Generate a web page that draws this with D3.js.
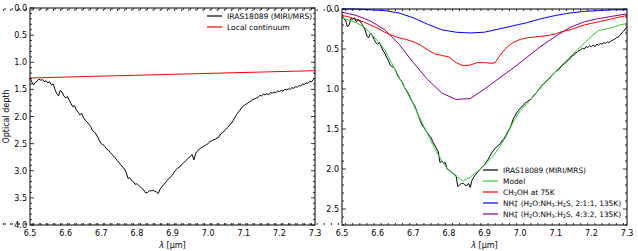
<!DOCTYPE html>
<html>
<head>
<meta charset="utf-8">
<script src="https://cdn.jsdelivr.net/npm/d3@7"></script>
<style>
  body { margin: 0; background: #fff; }
  svg text { font-family: "DejaVu Sans", sans-serif; fill: #000; }
</style>
</head>
<body>
<div id="chart"></div>
<script>
// wavelength sampling of the spectra (micron), 6.500 .. 7.300 step 0.005
var lamFine = d3.range(1300, 1461).map(function(i) { return i / 200; });

// left panel: observed optical depth + local continuum
var tauObs = [1.29,1.36,1.42,1.37,1.35,1.31,1.33,1.32,1.36,1.34,1.38,1.36,1.42,1.40,1.50,1.58,1.62,1.52,1.55,1.62,
  1.66,1.63,1.70,1.76,1.82,1.80,1.88,1.92,1.97,1.94,2.02,2.07,2.10,2.14,2.18,2.26,2.28,2.32,2.38,2.45,
  2.50,2.52,2.55,2.60,2.62,2.66,2.70,2.73,2.77,2.81,2.85,2.89,2.93,2.97,3.03,3.14,3.13,3.18,3.20,3.25,
  3.24,3.27,3.30,3.33,3.36,3.41,3.40,3.37,3.37,3.36,3.38,3.39,3.42,3.34,3.30,3.26,3.22,3.18,3.14,3.11,
  3.08,3.02,2.98,2.95,2.93,2.89,2.86,2.83,2.80,2.76,2.74,2.70,2.80,2.68,2.64,2.60,2.58,2.56,2.54,2.52,
  2.50,2.46,2.45,2.43,2.42,2.40,2.38,2.32,2.30,2.27,2.24,2.20,2.16,2.12,2.08,2.02,1.96,1.92,1.88,1.83,
  1.80,1.78,1.76,1.73,1.72,1.69,1.68,1.66,1.65,1.61,1.62,1.59,1.60,1.58,1.60,1.56,1.57,1.55,1.56,1.53,
  1.54,1.52,1.53,1.50,1.51,1.49,1.50,1.47,1.48,1.45,1.46,1.43,1.44,1.40,1.41,1.38,1.39,1.35,1.36,1.32,1.29];
var lamCont = [6.5, 7.3];
var tauCont = [1.29, 1.155];

// right panel: continuum-subtracted spectrum and lab fits
var tauSub = [0.10,0.12,0.14,0.22,0.20,0.12,0.13,0.11,0.16,0.13,0.15,0.18,0.22,0.26,0.34,0.36,0.30,0.33,0.38,0.42,
  0.44,0.42,0.47,0.52,0.55,0.60,0.64,0.70,0.72,0.73,0.76,0.82,0.86,0.89,0.92,0.98,1.01,1.05,1.09,1.14,
  1.18,1.22,1.28,1.34,1.40,1.45,1.48,1.52,1.55,1.58,1.61,1.66,1.70,1.74,1.78,1.92,1.90,1.93,1.92,2.00,
  2.01,2.03,2.05,2.07,2.08,2.22,2.20,2.18,2.18,2.20,2.21,2.18,2.23,2.14,2.10,2.07,2.04,2.02,1.99,1.97,
  1.95,1.91,1.88,1.84,1.80,1.77,1.74,1.72,1.70,1.68,1.64,1.62,1.58,1.54,1.50,1.45,1.38,1.34,1.30,1.27,
  1.24,1.22,1.20,1.17,1.16,1.14,1.13,1.10,1.07,1.05,1.02,0.99,0.96,0.94,0.92,0.89,0.88,0.85,0.83,0.80,
  0.78,0.77,0.75,0.72,0.70,0.68,0.66,0.64,0.62,0.59,0.58,0.55,0.54,0.52,0.51,0.49,0.50,0.47,0.48,0.46,
  0.47,0.45,0.47,0.44,0.45,0.43,0.44,0.42,0.43,0.41,0.42,0.40,0.39,0.38,0.36,0.35,0.33,0.30,0.28,0.25,0.22];

var lamModel = [6.50,6.52,6.54,6.56,6.58,6.60,6.62,6.64,6.66,6.68,6.70,6.72,6.74,6.76,6.78,6.80,6.82,6.84,6.86,6.88,
  6.90,6.92,6.94,6.96,6.98,7.00,7.02,7.04,7.06,7.08,7.10,7.12,7.14,7.16,7.18,7.20,7.22,7.24,7.26,7.28,7.30];
var tauModel = [0.11,0.14,0.17,0.22,0.30,0.40,0.51,0.68,0.85,1.02,1.19,1.38,1.56,1.74,1.90,2.02,2.09,2.15,2.10,2.03,
  1.95,1.86,1.74,1.60,1.42,1.27,1.18,1.08,0.97,0.87,0.78,0.69,0.60,0.51,0.43,0.34,0.27,0.25,0.23,0.20,0.18];

var lamCH3OH = [6.50,6.52,6.54,6.56,6.58,6.60,6.62,6.64,6.66,6.68,6.70,6.72,6.74,6.76,6.78,6.80,6.82,6.84,6.86,6.88,
  6.90,6.92,6.93,6.94,6.96,6.98,7.00,7.02,7.04,7.06,7.08,7.10,7.12,7.14,7.16,7.18,7.20,7.22,7.24,7.26,7.28,7.30];
var tauCH3OH = [0.08,0.10,0.13,0.16,0.20,0.24,0.29,0.33,0.36,0.38,0.41,0.45,0.51,0.56,0.58,0.60,0.67,0.71,0.70,0.67,
  0.67,0.68,0.67,0.60,0.49,0.42,0.38,0.36,0.35,0.34,0.33,0.31,0.28,0.26,0.23,0.20,0.18,0.16,0.14,0.12,0.10,0.08];

var lamNH4 = [6.50,6.54,6.58,6.62,6.66,6.70,6.74,6.78,6.82,6.86,6.90,6.94,6.98,7.02,7.06,7.10,7.14,7.18,7.22,7.26,7.30];
var tauNH4a = [0.00,0.00,0.01,0.02,0.05,0.11,0.19,0.26,0.29,0.30,0.29,0.25,0.21,0.17,0.12,0.08,0.05,0.03,0.02,0.01,0.01];
var tauNH4b = [0.04,0.08,0.15,0.26,0.44,0.67,0.88,1.05,1.13,1.12,1.00,0.87,0.74,0.60,0.46,0.34,0.23,0.16,0.12,0.09,0.06];

var xTicks = [6.5,6.6,6.7,6.8,6.9,7.0,7.1,7.2,7.3];

var width = 638, height = 251;
var svg = d3.select("#chart").append("svg")
  .attr("width", width)
  .attr("height", height);

function zip(xs, ys) { return xs.map(function(x, i) { return [x, ys[i]]; }); }

function panel(box, yMax, yTicks) {
  var p = {};
  p.x = d3.scaleLinear().domain([6.5, 7.3]).range([box.left, box.right]);
  p.y = d3.scaleLinear().domain([0, yMax]).range([box.top, box.bottom]);
  p.g = svg.append("g");
  p.line = d3.line().x(function(d) { return p.x(d[0]); }).y(function(d) { return p.y(d[1]); });

  // ticks inward on all four sides
  var xMinor = d3.range(65, 731, 2).map(function(v) { return v / 100; });
  var yMinor = d3.range(0, Math.round(yMax * 10) + 1).map(function(v) { return v / 10; });
  var tk = p.g.append("g").attr("stroke", "#000").attr("stroke-width", 0.8);
  xMinor.forEach(function(v) {
    var major = Math.abs(v * 10 - Math.round(v * 10)) < 1e-6;
    var len = major ? 4 : 2;
    tk.append("line").attr("x1", p.x(v)).attr("x2", p.x(v)).attr("y1", box.bottom).attr("y2", box.bottom - len);
    tk.append("line").attr("x1", p.x(v)).attr("x2", p.x(v)).attr("y1", box.top).attr("y2", box.top + len);
  });
  yMinor.forEach(function(v) {
    var major = Math.abs(v * 2 - Math.round(v * 2)) < 1e-6;
    var len = major ? 4 : 2;
    tk.append("line").attr("y1", p.y(v)).attr("y2", p.y(v)).attr("x1", box.left).attr("x2", box.left + len);
    tk.append("line").attr("y1", p.y(v)).attr("y2", p.y(v)).attr("x1", box.right).attr("x2", box.right - len);
  });

  p.g.selectAll(".xl").data(xTicks).enter().append("text")
    .attr("x", function(d) { return p.x(d); })
    .attr("y", box.bottom + 11)
    .attr("text-anchor", "middle")
    .attr("font-size", 8)
    .text(function(d) { return d.toFixed(1); });
  p.g.selectAll(".yl").data(yTicks).enter().append("text")
    .attr("x", box.left - 3)
    .attr("y", function(d) { return p.y(d) + 3; })
    .attr("text-anchor", "end")
    .attr("font-size", 8)
    .text(function(d) { return d.toFixed(1); });

  var xl = p.g.append("text")
    .attr("x", (box.left + box.right) / 2)
    .attr("y", box.bottom + 23)
    .attr("text-anchor", "middle")
    .attr("font-size", 8);
  xl.append("tspan").attr("font-style", "italic").text("λ");
  xl.append("tspan").text(" [μm]");

  p.plot = p.g.append("g");
  p.g.append("rect")
    .attr("x", box.left).attr("y", box.top)
    .attr("width", box.right - box.left).attr("height", box.bottom - box.top)
    .attr("fill", "none").attr("stroke", "#000").attr("stroke-width", 1);
  return p;
}

// parts: [text, kind, dy, dx]; kind sub/sup use a smaller size
function addLegend(g, x0, y0, dy, fs, items) {
  items.forEach(function(it, i) {
    var y = y0 + i * dy;
    g.append("line").attr("x1", x0).attr("x2", x0 + 15).attr("y1", y).attr("y2", y)
      .attr("stroke", it.color).attr("stroke-width", 1.2);
    var t = g.append("text").attr("x", x0 + 20).attr("y", y + 2.7).attr("font-size", fs);
    it.parts.forEach(function(pt) {
      var s = t.append("tspan").text(pt[0]);
      if (pt[1] === "sub" || pt[1] === "sup") s.attr("font-size", fs * 0.68);
      if (pt[2]) s.attr("dy", pt[2]);
      if (pt[3]) s.attr("dx", pt[3]);
    });
  });
}

function nh4Label(ratio) {
  return [["NH"], ["4", "sub", 1.5], ["+", "sup", -4.5, -3.2], [" (H", "n", 3], ["2", "sub", 1.5],
    ["O:NH", "n", -1.5], ["3", "sub", 1.5], [":H", "n", -1.5], ["2", "sub", 1.5], ["S, " + ratio + ", 135K)", "n", -1.5]];
}

// ---- left panel
var L = panel({left: 30, right: 315, top: 8, bottom: 225}, 4.0, [0,0.5,1,1.5,2,2.5,3,3.5,4]);
L.plot.append("path").datum(zip(lamFine, tauObs)).attr("d", L.line)
  .attr("fill", "none").attr("stroke", "#000").attr("stroke-width", 1);
L.plot.append("path").datum(zip(lamCont, tauCont)).attr("d", L.line)
  .attr("fill", "none").attr("stroke", "#ff0000").attr("stroke-width", 1);

svg.append("text")
  .attr("transform", "translate(9," + (8 + 225) / 2 + ") rotate(-90)")
  .attr("text-anchor", "middle")
  .attr("font-size", 8)
  .text("Optical depth");

addLegend(L.g, 207, 16, 11, 7.6, [
  {color: "#000", parts: [["IRAS18089 (MIRI/MRS)"]]},
  {color: "#ff0000", parts: [["Local continuum"]]}
]);

// ---- right panel
var R = panel({left: 342, right: 627, top: 9, bottom: 225}, 2.7, [0,0.5,1,1.5,2,2.5]);
var series = [
  [lamNH4, tauNH4a, "#0000ff"],
  [lamNH4, tauNH4b, "#800080"],
  [lamCH3OH, tauCH3OH, "#ff0000"],
  [lamFine, tauSub, "#000"],
  [lamModel, tauModel, "#33cc33"]
];
series.forEach(function(s) {
  R.plot.append("path").datum(zip(s[0], s[1])).attr("d", R.line)
    .attr("fill", "none").attr("stroke", s[2]).attr("stroke-width", 1);
});

addLegend(R.g, 483, 170, 11, 7.4, [
  {color: "#000", parts: [["IRAS18089 (MIRI/MRS)"]]},
  {color: "#33cc33", parts: [["Model"]]},
  {color: "#ff0000", parts: [["CH"], ["3", "sub", 1.5], ["OH at 75K", "n", -1.5]]},
  {color: "#0000ff", parts: nh4Label("2:1:1")},
  {color: "#800080", parts: nh4Label("4:3:2")}
]);
</script>
</body>
</html>
